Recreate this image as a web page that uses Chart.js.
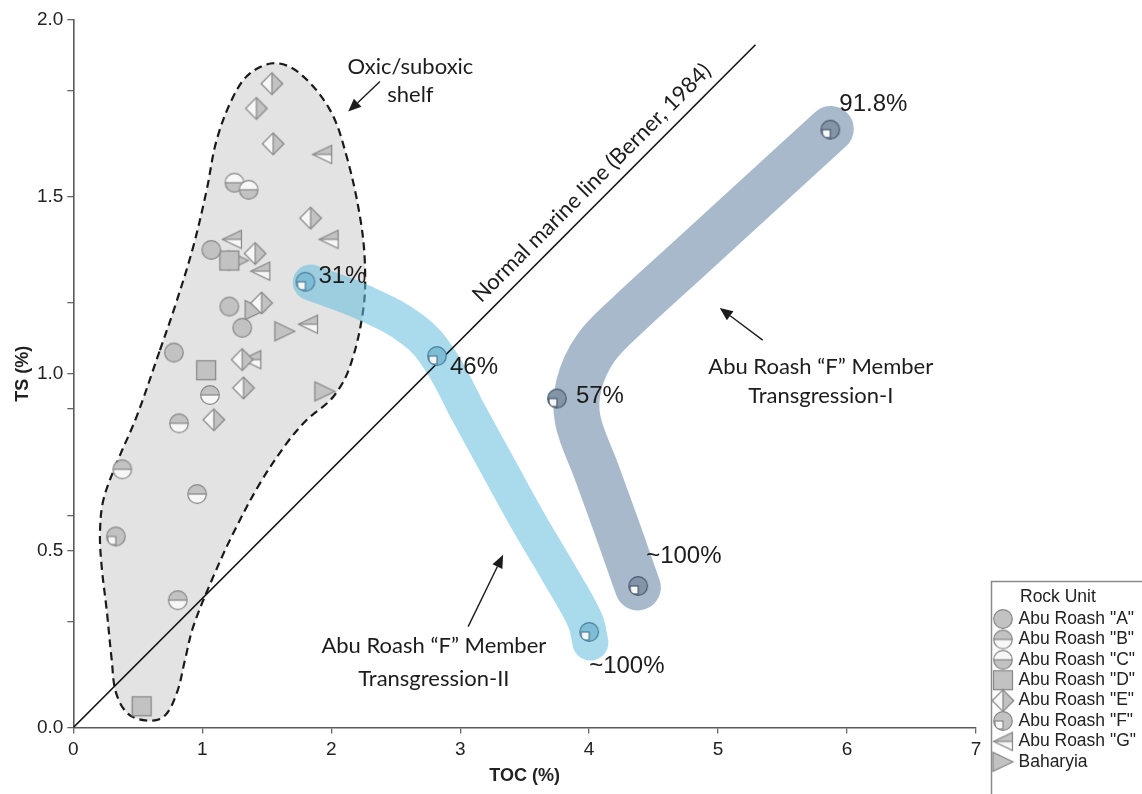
<!DOCTYPE html>
<html><head><meta charset="utf-8">
<script src="https://cdn.jsdelivr.net/npm/chart.js@4.4.1/dist/chart.umd.min.js"></script>
<style>html,body{margin:0;padding:0;background:#fff;}#wrap{width:1142px;height:794px;}</style>
</head><body><div id="wrap"><canvas id="c" width="1142" height="794"></canvas></div>
<script>
// ---------- data ----------
const tocA = [1.07, 1.21, 1.31, 0.78];
const tsA  = [1.35, 1.19, 1.13, 1.06];
const tocB = [1.06, 0.82, 0.38, 0.96, 0.81];
const tsB  = [0.94, 0.86, 0.73, 0.66, 0.36];
const tocC = [1.25, 1.36];
const tsC  = [1.54, 1.52];
const tocD = [1.21, 1.03, 0.53];
const tsD  = [1.32, 1.01, 0.06];
const tocE = [1.54, 1.42, 1.55, 1.84, 1.41, 1.46, 1.31, 1.32, 1.09];
const tsE  = [1.82, 1.75, 1.65, 1.44, 1.34, 1.20, 1.04, 0.96, 0.87];
const tocF = [0.33, 1.80, 2.82, 4.00, 3.75, 4.38, 5.87];
const tsF  = [0.54, 1.26, 1.05, 0.27, 0.93, 0.40, 1.69];
const fGroup = ['shelf', 'II', 'II', 'II', 'I', 'I', 'I'];
const fLabels = ['', '31%', '46%', '~100%', '57%', '~100%', '91.8%'];
const tocG = [1.93, 1.98, 1.23, 1.45, 1.82, 1.38];
const tsG  = [1.62, 1.38, 1.38, 1.29, 1.14, 1.04];
const tocBah = [1.28, 1.41, 1.64, 1.95];
const tsBah  = [1.32, 1.18, 1.12, 0.95];

// oxic/suboxic shelf outline
const shelfToc = [0.672, 0.788, 0.930, 1.034, 1.112, 1.240, 1.370, 1.564, 1.757, 1.990, 2.120, 2.223, 2.261, 2.248, 2.145, 2.016, 1.809, 1.654, 1.447, 1.240, 1.085, 0.930, 0.866, 0.802, 0.700, 0.560, 0.420, 0.330, 0.298, 0.259, 0.220, 0.207, 0.233, 0.336, 0.491, 0.672];
const shelfTs  = [1.067, 1.190, 1.359, 1.519, 1.661, 1.783, 1.849, 1.878, 1.849, 1.746, 1.614, 1.444, 1.312, 1.180, 1.020, 0.935, 0.869, 0.803, 0.690, 0.549, 0.426, 0.285, 0.191, 0.097, 0.030, 0.020, 0.040, 0.100, 0.191, 0.332, 0.455, 0.549, 0.643, 0.747, 0.879, 1.067];
// Transgression-I band (dark) and Transgression-II band (light) centre lines
const bandIToc  = [5.874, 5.323, 4.781, 4.316, 4.052, 3.920, 3.912, 4.052, 4.207, 4.316, 4.378];
const bandITs   = [1.692, 1.508, 1.327, 1.172, 1.073, 0.968, 0.869, 0.728, 0.573, 0.460, 0.396];
const bandIIToc = [1.841, 2.246, 2.634, 2.843, 3.075, 3.308, 3.540, 3.773, 3.967, 4.010];
const bandIITs  = [1.258, 1.202, 1.124, 1.039, 0.883, 0.728, 0.575, 0.431, 0.304, 0.240];
// normal marine line (Berner, 1984)
const marineToc = [0, 5.29];
const marineTs  = [0, 1.93];

const xTickValues = [0, 1, 2, 3, 4, 5, 6, 7];
const xTickLabels = ['0', '1', '2', '3', '4', '5', '6', '7'];
const yTickValues = [0, 0.3, 0.5, 0.6, 0.9, 1.0, 1.2, 1.5, 1.8, 2.0];
const yTickLabels = ['0.0', '', '0.5', '', '', '1.0', '', '1.5', '', '2.0'];

const unitNames = ['Abu Roash "A"', 'Abu Roash "B"', 'Abu Roash "C"', 'Abu Roash "D"', 'Abu Roash "E"', 'Abu Roash "F"', 'Abu Roash "G"', 'Baharyia'];
const legendTitle = 'Rock Unit';

// ---------- symbols ----------
const GREY = '#c2c2c2', EDGE = '#868686', WHITE = '#f7f7f7';
function sym(kind, fill, edge) {
  const c = document.createElement('canvas'); c.width = 26; c.height = 26;
  const g = c.getContext('2d'); const cx = 13, cy = 13, r = 9.3;
  g.lineWidth = 1.2; g.strokeStyle = edge; g.lineJoin = 'miter';
  const circ = () => { g.beginPath(); g.arc(cx, cy, r, 0, Math.PI * 2); };
  if (kind === 'A') { circ(); g.fillStyle = fill; g.fill(); g.stroke(); }
  else if (kind === 'B' || kind === 'C') {
    circ(); g.fillStyle = WHITE; g.fill();
    g.beginPath(); if (kind === 'B') g.arc(cx, cy, r, Math.PI, 2 * Math.PI); else g.arc(cx, cy, r, 0, Math.PI);
    g.closePath(); g.fillStyle = fill; g.fill();
    g.beginPath(); g.moveTo(cx - r, cy); g.lineTo(cx + r, cy); g.stroke();
    circ(); g.stroke();
  } else if (kind === 'D') {
    g.fillStyle = fill; g.fillRect(cx - 9.5, cy - 9.5, 19, 19); g.strokeRect(cx - 9.5, cy - 9.5, 19, 19);
  } else if (kind === 'E') {
    const h = 10.8;
    g.beginPath(); g.moveTo(cx, cy - h); g.lineTo(cx - h, cy); g.lineTo(cx, cy + h); g.closePath(); g.fillStyle = WHITE; g.fill();
    g.beginPath(); g.moveTo(cx, cy - h); g.lineTo(cx + h, cy); g.lineTo(cx, cy + h); g.closePath(); g.fillStyle = fill; g.fill();
    g.beginPath(); g.moveTo(cx, cy - h); g.lineTo(cx, cy + h); g.stroke();
    g.beginPath(); g.moveTo(cx, cy - h); g.lineTo(cx + h, cy); g.lineTo(cx, cy + h); g.lineTo(cx - h, cy); g.closePath(); g.stroke();
  } else if (kind === 'F') {
    circ(); g.fillStyle = fill; g.fill();
    const s = r * 0.86;
    g.save(); circ(); g.clip();
    g.fillStyle = WHITE; g.fillRect(cx - s, cy, s, s);
    g.strokeRect(cx - s, cy, s, s);
    g.restore();
    circ(); g.stroke();
  } else if (kind === 'G') {
    const tri = () => { g.beginPath(); g.moveTo(cx - 9.5, cy); g.lineTo(cx + 9.5, cy - 9); g.lineTo(cx + 9.5, cy + 9); g.closePath(); };
    tri(); g.fillStyle = WHITE; g.fill();
    g.save(); tri(); g.clip(); g.fillStyle = fill; g.fillRect(0, 0, 26, cy); g.restore();
    g.beginPath(); g.moveTo(cx - 9.5, cy); g.lineTo(cx + 9.5, cy); g.stroke();
    tri(); g.stroke();
  } else if (kind === 'H') {
    g.beginPath(); g.moveTo(cx + 10, cy); g.lineTo(cx - 10, cy - 9.5); g.lineTo(cx - 10, cy + 9.5); g.closePath();
    g.fillStyle = fill; g.fill(); g.stroke();
  }
  return c;
}
const symA = sym('A', GREY, EDGE), symB = sym('B', GREY, EDGE), symC = sym('C', GREY, EDGE),
      symD = sym('D', GREY, EDGE), symE = sym('E', GREY, EDGE), symF = sym('F', GREY, EDGE),
      symG = sym('G', GREY, EDGE), symH = sym('H', GREY, EDGE);
const symFII = sym('F', '#7fbcd5', '#4a7f98');
const symFI = sym('F', '#8393a8', '#4a5a6e');
const fStyles = fGroup.map(g => g === 'II' ? symFII : (g === 'I' ? symFI : symF));

const pts = (xs, ys) => xs.map((x, i) => ({ x, y: ys[i] }));
const scatterSet = (label, xs, ys, style) => ({
  type: 'scatter', label, data: pts(xs, ys), pointStyle: style, pointRadius: 10, pointHoverRadius: 10, order: 1
});

const datasets = [
  scatterSet(unitNames[0], tocA, tsA, symA),
  scatterSet(unitNames[1], tocB, tsB, symB),
  scatterSet(unitNames[2], tocC, tsC, symC),
  scatterSet(unitNames[3], tocD, tsD, symD),
  scatterSet(unitNames[4], tocE, tsE, symE),
  scatterSet(unitNames[5], tocF, tsF, fStyles),
  scatterSet(unitNames[6], tocG, tsG, symG),
  scatterSet(unitNames[7], tocBah, tsBah, symH),
  { type: 'line', label: 'shelf', data: pts(shelfToc, shelfTs), borderColor: '#1a1a1a', borderWidth: 2.2, borderDash: [8, 5],
    backgroundColor: '#e3e3e3', fill: 'shape', tension: 0.35, pointRadius: 0, order: 10 },
  { type: 'line', label: 'bandII', data: pts(bandIIToc, bandIITs), borderColor: 'rgba(100,190,222,0.55)', borderWidth: 36,
    borderCapStyle: 'round', borderJoinStyle: 'round', tension: 0.4, pointRadius: 0, fill: false, order: 9 },
  { type: 'line', label: 'bandI', data: pts(bandIToc, bandITs), borderColor: 'rgba(88,120,156,0.52)', borderWidth: 46,
    borderCapStyle: 'round', borderJoinStyle: 'round', tension: 0.35, pointRadius: 0, fill: false, order: 9 },
  { type: 'line', label: 'marine', data: pts(marineToc, marineTs), borderColor: '#111', borderWidth: 1.6,
    pointRadius: 0, fill: false, tension: 0, order: 8 }
];

// ---------- annotations (layout, anchored in data space) ----------
const textFont = '22px Lato, "Open Sans", sans-serif';
const pctFont = '24px "Liberation Sans", Arial, sans-serif';
const pctOffsets = [[0, 0], [13, -5], [13, 11], [0, 34], [19, -2], [8, -30], [9, -25]];
const notes = [
  { lines: ['Oxic/suboxic', 'shelf'], x: 2.614, y: 1.867, gap: 28 },
  { lines: ['Abu Roash \u201CF\u201D Member', 'Transgression-I'], x: 5.796, y: 1.019, gap: 29 },
  { lines: ['Abu Roash \u201CF\u201D Member', 'Transgression-II'], x: 2.796, y: 0.231, gap: 33 }
];
const arrows = [
  { from: [2.378, 1.826], to: [2.132, 1.741] },
  { from: [5.346, 1.095], to: [5.013, 1.186] },
  { from: [3.062, 0.285], to: [3.333, 0.488] }
];
const marineText = 'Normal marine line (Berner, 1984)';
const marineTextAt = 4.12;

const notePlugin = {
  id: 'notes',
  afterDatasetsDraw(chart) {
    const ctx = chart.ctx, xs = chart.scales.x, ys = chart.scales.y;
    ctx.save();
    ctx.fillStyle = '#1c1c1c';
    ctx.font = pctFont; ctx.textAlign = 'left'; ctx.textBaseline = 'middle';
    fLabels.forEach((t, i) => {
      if (!t) return;
      const px = xs.getPixelForValue(tocF[i]) + pctOffsets[i][0];
      const py = ys.getPixelForValue(tsF[i]) + pctOffsets[i][1];
      ctx.fillText(t, px, py);
    });
    ctx.font = textFont; ctx.textAlign = 'center';
    notes.forEach(n => {
      const px = xs.getPixelForValue(n.x), py = ys.getPixelForValue(n.y);
      n.lines.forEach((l, k) => ctx.fillText(l, px, py + k * n.gap));
    });
    ctx.strokeStyle = '#1c1c1c'; ctx.lineWidth = 1.4;
    arrows.forEach(a => {
      const x1 = xs.getPixelForValue(a.from[0]), y1 = ys.getPixelForValue(a.from[1]);
      const x2 = xs.getPixelForValue(a.to[0]), y2 = ys.getPixelForValue(a.to[1]);
      const ang = Math.atan2(y2 - y1, x2 - x1), L = 13, W = 5.5;
      const bx = x2 - L * Math.cos(ang), by = y2 - L * Math.sin(ang);
      ctx.beginPath(); ctx.moveTo(x1, y1); ctx.lineTo(bx, by); ctx.stroke();
      ctx.beginPath(); ctx.moveTo(x2, y2);
      ctx.lineTo(bx + W * Math.sin(ang), by - W * Math.cos(ang));
      ctx.lineTo(bx - W * Math.sin(ang), by + W * Math.cos(ang));
      ctx.closePath(); ctx.fill();
    });
    const p0x = xs.getPixelForValue(marineToc[0]), p0y = ys.getPixelForValue(marineTs[0]);
    const p1x = xs.getPixelForValue(marineToc[1]), p1y = ys.getPixelForValue(marineTs[1]);
    const ang = Math.atan2(p1y - p0y, p1x - p0x);
    const t = marineTextAt / marineToc[1];
    const ax = p0x + (p1x - p0x) * t, ay = p0y + (p1y - p0y) * t;
    ctx.translate(ax + Math.sin(ang) * 11, ay - Math.cos(ang) * 11);
    ctx.rotate(ang);
    ctx.textBaseline = 'alphabetic'; ctx.textAlign = 'center';
    ctx.fillText(marineText, 0, 0);
    ctx.restore();
  }
};

const legendPlugin = {
  id: 'rockLegend',
  afterDraw(chart) {
    const ctx = chart.ctx;
    ctx.save();
    ctx.strokeStyle = '#8a8a8a'; ctx.lineWidth = 1.5;
    ctx.strokeRect(991.5, 581.5, 300, 300);
    ctx.fillStyle = '#222'; ctx.font = '17.5px "Liberation Sans", Arial, sans-serif';
    ctx.textAlign = 'left'; ctx.textBaseline = 'middle';
    ctx.fillText(legendTitle, 1020, 597);
    for (let i = 0; i < 8; i++) {
      const ds = chart.data.datasets[i];
      const icon = Array.isArray(ds.pointStyle) ? symF : ds.pointStyle;
      const y = 619 + i * 20.4;
      ctx.drawImage(icon, 1003 - 13, y - 13);
      ctx.fillText(ds.label, 1018.5, y);
    }
    ctx.restore();
  }
};

Chart.defaults.font.family = '"Liberation Sans", Arial, sans-serif';
new Chart(document.getElementById('c'), {
  type: 'scatter',
  data: { datasets },
  options: {
    responsive: false, devicePixelRatio: 1, animation: false, events: [],
    layout: { padding: { left: 0, right: 166, top: 20, bottom: 0 } },
    plugins: { legend: { display: false }, tooltip: { enabled: false }, filler: { propagate: false } },
    scales: {
      x: {
        type: 'linear', min: 0, max: 7,
        afterFit: s => { s.height = 66.5; },
        afterBuildTicks: s => { s.ticks = xTickValues.map(v => ({ value: v })); },
        grid: { drawOnChartArea: false, drawTicks: true, tickLength: 6, color: '#666', lineWidth: 1.3 },
        border: { display: true, color: '#5a5a5a', width: 1.6 },
        ticks: { color: '#222', font: { size: 19 }, padding: 5, autoSkip: false, maxRotation: 0,
                 callback: (v, i) => xTickLabels[i] },
        title: { display: true, text: 'TOC (%)', color: '#222', font: { size: 18, weight: 'bold' }, padding: { top: 0, bottom: 7 } }
      },
      y: {
        type: 'linear', min: 0, max: 2,
        afterFit: s => { s.width = 73.3; },
        afterBuildTicks: s => { s.ticks = yTickValues.map(v => ({ value: v })); },
        grid: { drawOnChartArea: false, drawTicks: true, tickLength: 6, color: '#666', lineWidth: 1.3 },
        border: { display: true, color: '#5a5a5a', width: 1.6 },
        ticks: { color: '#222', font: { size: 19 }, padding: 4, autoSkip: false,
                 callback: (v, i) => yTickLabels[i] },
        title: { display: true, text: 'TS (%)', color: '#222', font: { size: 18, weight: 'bold' }, padding: { top: 12, bottom: 0 } }
      }
    }
  },
  plugins: [notePlugin, legendPlugin]
});
</script></body></html>
